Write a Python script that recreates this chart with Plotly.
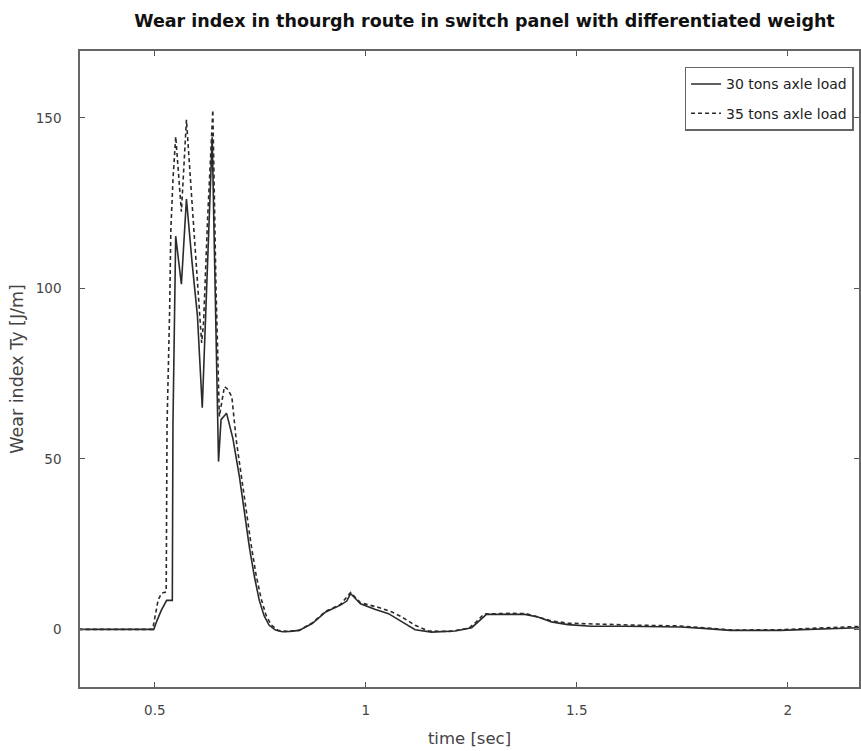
import plotly.graph_objects as go

# 30 tons axle load (solid)
t30 = [0.32, 0.4976, 0.505, 0.515, 0.528, 0.5415, 0.543, 0.5495, 0.563, 0.575, 0.588, 0.601,
       0.6125, 0.624, 0.636, 0.651, 0.657, 0.670, 0.685, 0.7005, 0.712, 0.724, 0.736, 0.7476,
       0.759, 0.771, 0.786, 0.802, 0.82, 0.842, 0.873, 0.905, 0.94, 0.955, 0.964, 0.9875, 1.023,
       1.054, 1.086, 1.117, 1.156, 1.212, 1.251, 1.267, 1.286, 1.337, 1.377, 1.408, 1.44, 1.479,
       1.534, 1.612, 1.691, 1.746, 1.80, 1.864, 1.982, 2.06, 2.175]
w30 = [0, 0, 2.5, 5.5, 8.5, 8.5, 60, 115.3, 101.2, 126.2, 108, 92,
       65, 104, 144.3, 49.2, 61.5, 63.4, 56, 44.8, 34, 24.2, 15.5, 8.5,
       4, 1.2, -0.2, -0.7, -0.6, -0.3, 1.7, 5.1, 7.1, 8.3, 10.5, 7.5, 5.8,
       4.6, 2.2, -0.1, -0.8, -0.5, 0.5, 2.2, 4.4, 4.4, 4.4, 3.6, 2.2, 1.4,
       0.9, 0.9, 0.9, 0.7, 0.3, -0.3, -0.3, 0.0, 0.5]

# 35 tons axle load (dashed)
t35 = [0.32, 0.495, 0.508, 0.516, 0.527, 0.529, 0.535, 0.538, 0.543, 0.5496, 0.563, 0.575,
       0.587, 0.595, 0.6025, 0.611, 0.6156, 0.625, 0.6375, 0.645, 0.653, 0.665, 0.672, 0.6825,
       0.693, 0.705, 0.717, 0.728, 0.74, 0.752, 0.764, 0.776, 0.792, 0.81, 0.842, 0.873, 0.905,
       0.94, 0.964, 0.9875, 1.031, 1.062, 1.086, 1.117, 1.149, 1.2, 1.245, 1.262, 1.28, 1.34,
       1.38, 1.41, 1.44, 1.48, 1.55, 1.65, 1.746, 1.80, 1.87, 1.98, 2.06, 2.175]
w35 = [0, 0, 8.7, 10.6, 11, 60, 92.7, 117, 131.8, 144.5, 122.5, 149.4,
       127.4, 112.8, 100, 84, 90, 120, 152.3, 100, 62.4, 71.2, 70.5, 68.3,
       55.5, 45, 34, 25, 16, 9, 4, 1.3, -0.3, -0.6, -0.3, 1.9, 5.3,
       7.3, 10.8, 7.8, 6.4, 5.1, 3.6, 1.2, -0.5, -0.6, 0.4, 2.2, 4.5, 4.7,
       4.6, 3.6, 2.5, 1.8, 1.5, 1.2, 1.0, 0.5, -0.2, -0.1, 0.3, 0.9]

series_names = ["30 tons axle load", "35 tons axle load"]
x_ticks = [0.5, 1, 1.5, 2]
y_ticks = [0, 50, 100, 150]

fig = go.Figure()
fig.add_trace(go.Scatter(x=t30, y=w30, mode="lines", name=series_names[0], legendgroup="a",
                         line=dict(color="#2b2b2b", width=1.6)))
fig.add_trace(go.Scatter(x=t35, y=w35, mode="lines", name=series_names[1], legendgroup="b",
                         line=dict(color="#2b2b2b", width=1.6, dash="4px,3px")))

font_family = "DejaVu Sans, Liberation Sans, sans-serif"
fig.update_layout(
    width=861, height=751,
    margin=dict(l=80, r=0, t=51, b=64),
    paper_bgcolor="white", plot_bgcolor="white",
    title=dict(text="<b>Wear index in thourgh route in switch panel with differentiated weight</b>",
               x=0.5627, xanchor="center", y=1 - 21 / 751, yanchor="middle",
               font=dict(family=font_family, size=17.5, color="#111")),
    font=dict(family=font_family, color="#444"),
    showlegend=True,
    legend=dict(x=0.993, xanchor="right", y=0.975, yanchor="top",
                bordercolor="#666", borderwidth=1.5, bgcolor="white",
                font=dict(size=14, color="#222"), tracegroupgap=8,
                traceorder="grouped", itemwidth=30),
)
fig.update_xaxes(range=[0.3227, 2.169], tickvals=x_ticks, ticktext=["0.5", "1", "1.5", "2"],
                 ticks="inside", ticklen=5, tickcolor="#555", tickwidth=1.2,
                 showline=True, linecolor="#666", linewidth=1.5, mirror="allticks",
                 showgrid=False, zeroline=False, ticklabelstandoff=10,
                 tickfont=dict(size=13.5, color="#444"),
                 title=dict(text="time [sec]", font=dict(size=16.5, color="#444"), standoff=15))
fig.update_yaxes(range=[-16.9, 169.6], tickvals=y_ticks,
                 ticks="inside", ticklen=5, tickcolor="#555", tickwidth=1.2,
                 showline=True, linecolor="#666", linewidth=1.5, mirror="ticks",
                 showgrid=False, zeroline=False, ticklabelstandoff=14,
                 tickfont=dict(size=13.5, color="#444"),
                 title=dict(text="Wear index Ty [J/m]", font=dict(size=17.5, color="#444"), standoff=8))

fig.write_html("out.html")
